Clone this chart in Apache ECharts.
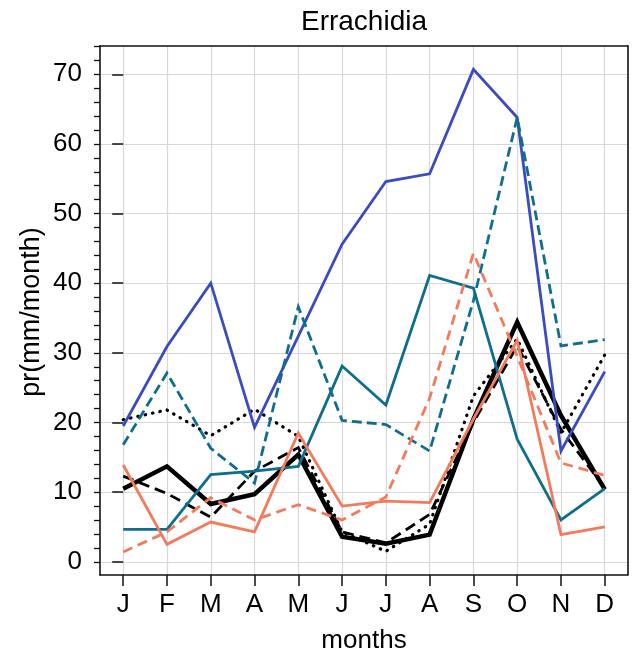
<!DOCTYPE html>
<html>
<head>
<meta charset="utf-8">
<script src="https://cdn.jsdelivr.net/npm/echarts@6/dist/echarts.min.js"></script>
<style>
html,body{margin:0;padding:0;background:#fff;}
#chart{width:633px;height:653px;}
</style>
</head>
<body>
<div id="chart"></div>
<script>
// ---- data ----
const months = ['J','F','M','A','M','J','J','A','S','O','N','D'];
const monthTicks = [0,1,2,3,4,5,6,7,8,9,10,11];
const yMajorTicks = [0,10,20,30,40,50,60,70];
const yMinorTicks = [0,2,4,6,8,10,12,14,16,18,20,22,24,26,28,30,32,34,36,38,40,42,44,46,48,50,52,54,56,58,60,62,64,66,68,70,72,74];

const blackDotted = [20.4, 21.8, 18.1, 21.9, 18.0, 4.3, 1.5, 5.4, 23.8, 32.0, 18.5, 29.7];
const blackDashed = [12.3, 9.8, 6.4, 13.0, 16.4, 4.3, 2.7, 6.8, 20.0, 31.0, 19.0, 10.6];
const blackSolid  = [10.5, 13.7, 8.3, 9.7, 15.4, 3.6, 2.6, 3.9, 20.5, 34.4, 21.0, 10.4];
const blueSolid   = [19.5, 30.9, 40.0, 19.3, 32.4, 45.6, 54.6, 55.7, 70.7, 63.8, 15.9, 27.3];
const tealSolid   = [4.65, 4.65, 12.5, 13.0, 13.7, 28.1, 22.5, 41.1, 39.3, 17.6, 6.0, 10.5];
const tealDashed  = [16.8, 27.1, 16.3, 11.3, 36.6, 20.3, 19.7, 15.9, 37.5, 63.8, 31.0, 31.9];
const salmonSolid = [13.9, 2.5, 5.7, 4.3, 18.5, 8.0, 8.7, 8.5, 20.5, 31.8, 3.9, 5.0];
const salmonDashed= [1.4, 4.3, 9.2, 6.0, 8.2, 6.0, 9.3, 23.5, 44.3, 29.5, 14.2, 12.4];

const FONT = 'Liberation Sans, Arial, Helvetica, sans-serif';
const BLUE = '#3b4cc0', TEAL = '#0f6e8e', SALMON = '#f47a5b';

function mk(name, arr, color, width, type, cap, z) {
  return {
    name: name, type: 'line', data: arr.map((v, i) => [i, v]),
    showSymbol: false, symbol: 'none', z: z,
    lineStyle: { color: color, width: width, type: type, cap: cap, join: 'miter' }
  };
}

const chart = echarts.init(document.getElementById('chart'), null, { renderer: 'canvas' });
const option = {
  animation: false,
  backgroundColor: '#fff',
  textStyle: { fontFamily: FONT },
  grid: { left: 100, right: 5.5, top: 45.7, bottom: 78, containLabel: false, outerBoundsMode: 'none' },
  xAxis: [
    {
      type: 'value', min: -0.53, max: 11.52, position: 'bottom',
      axisLine: { show: true, onZero: false, lineStyle: { color: '#111', width: 1.6 } },
      axisTick: { show: true, customValues: monthTicks, length: 11, lineStyle: { color: '#111', width: 1.5 } },
      axisLabel: { show: true, customValues: monthTicks, formatter: v => months[Math.round(v)], fontSize: 26, margin: 17, color: '#000', fontFamily: FONT },
      splitLine: { show: true, lineStyle: { color: '#d8d8d8', width: 1.2 } }
    },
    {
      type: 'value', min: -0.53, max: 11.52, position: 'top',
      axisLine: { show: true, onZero: false, lineStyle: { color: '#111', width: 1.6 } },
      axisTick: { show: false }, axisLabel: { show: false }, splitLine: { show: false }
    }
  ],
  yAxis: [
    {
      type: 'value', min: -1.9, max: 74.1, position: 'left',
      axisLine: { show: true, onZero: false, lineStyle: { color: '#111', width: 1.6 } },
      axisTick: { show: true, customValues: yMinorTicks, length: 6, lineStyle: { color: '#111', width: 1.3 } },
      axisLabel: { show: false }, splitLine: { show: false }
    },
    {
      type: 'value', min: -1.9, max: 74.1, position: 'left',
      axisLine: { show: false },
      axisTick: { show: true, customValues: yMajorTicks, length: 11, lineStyle: { color: '#111', width: 1.5 } },
      axisLabel: { show: true, customValues: yMajorTicks, fontSize: 26, margin: 18, color: '#000', fontFamily: FONT },
      splitLine: { show: true, lineStyle: { color: '#d8d8d8', width: 1.2 } }
    },
    {
      type: 'value', min: -1.9, max: 74.1, position: 'right',
      axisLine: { show: true, onZero: false, lineStyle: { color: '#111', width: 1.6 } },
      axisTick: { show: false }, axisLabel: { show: false }, splitLine: { show: false }
    }
  ],
  series: [
    mk('obs dotted', blackDotted, '#000', 3.2, [0.5, 7], 'round', 2),
    mk('obs dashed', blackDashed, '#000', 2.8, [11, 6], 'butt', 3),
    mk('obs', blackSolid, '#000', 4.5, 'solid', 'butt', 4),
    mk('blue', blueSolid, BLUE, 2.8, 'solid', 'butt', 5),
    mk('teal', tealSolid, TEAL, 2.8, 'solid', 'butt', 5),
    mk('teal dashed', tealDashed, TEAL, 2.8, [10, 5], 'butt', 5),
    mk('salmon', salmonSolid, SALMON, 2.8, 'solid', 'butt', 6),
    mk('salmon dashed', salmonDashed, SALMON, 2.8, [10, 6], 'butt', 6)
  ],
  graphic: [
    { type: 'text', x: 364, y: 22.5, style: { text: 'Errachidia', fontSize: 28, fontFamily: FONT, fill: '#000', textAlign: 'center', textVerticalAlign: 'middle' } },
    { type: 'text', x: 364, y: 641, style: { text: 'months', fontSize: 26, fontFamily: FONT, fill: '#000', textAlign: 'center', textVerticalAlign: 'middle' } },
    { type: 'text', x: 31.5, y: 312, rotation: Math.PI / 2, style: { text: 'pr(mm/month)', fontSize: 27, fontFamily: FONT, fill: '#000', textAlign: 'center', textVerticalAlign: 'middle' } }
  ]
};
chart.setOption(option);
</script>
</body>
</html>
